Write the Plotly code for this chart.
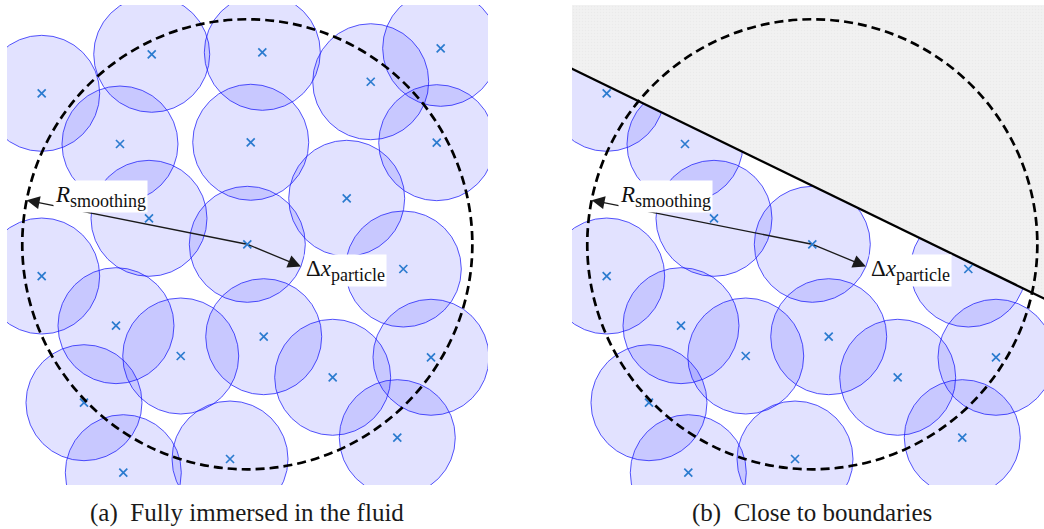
import plotly.graph_objects as go

# Particle centres in units of the particle spacing Δx (reference particle at the origin)
particle_x = [-1.648, 0.259, 2.128, 3.334, -3.545, -2.195, 0.059, 3.266, -1.695, 1.714, 0.0,
              2.690, -3.545, -2.264, -1.148, 0.283, 1.472, 3.167, -2.816, -2.138, -0.298, 2.586]
particle_y = [3.276, 3.310, 2.803, 3.379, 2.603, 1.729, 1.759, 1.752, 0.448, 0.793, 0.0,
              -0.426, -0.547, -1.403, -1.926, -1.593, -2.293, -1.948, -2.731, -3.938, -3.702, -3.334]
particle_radius = 1.0
smoothing_radius = 3.88

# Solid wall of panel (b): y = wall_offset + wall_slope * x, solid above the line
wall_offset = 1.01
wall_slope = -0.487

# Directions of the two radius arrows, in degrees
r_arrow_angle = 168.7
dx_arrow_angle = -22.4

captions = ["(a)\u00a0\u00a0Fully immersed in the fluid", "(b)\u00a0\u00a0Close to boundaries"]

import math

W, H = 1044, 529
SCALE = 58.0          # pixels per Δx
PANEL_TOP, PANEL_BOT = 5, 485
CENTRE_PX = [(247.3, 244.3), (812.3, 244.3)]
PANEL_X = [(7, 488), (572, 1044)]

CIRCLE_FILL = "rgba(0,0,255,0.115)"
CIRCLE_LINE = "rgba(30,30,250,0.75)"
CROSS = "#2b7bcf"
SERIF = "Liberation Serif"
SUB = "<sub><span style='font-family:Liberation Serif;font-size:18px'>{}</span></sub>"


def wall(x):
    return wall_offset + wall_slope * x


fig = go.Figure()
shapes = []
annotations = []

for k in range(2):
    xs = "x" if k == 0 else "x2"
    ys = "y" if k == 0 else "y2"
    ax_name = "xaxis" if k == 0 else "xaxis2"
    ay_name = "yaxis" if k == 0 else "yaxis2"
    cx, cy = CENTRE_PX[k]
    x0p, x1p = PANEL_X[k]
    xr = [(x0p - cx) / SCALE, (x1p - cx) / SCALE]
    yr = [(cy - PANEL_BOT) / SCALE, (cy - PANEL_TOP) / SCALE]
    axis_style = dict(showgrid=False, zeroline=False, showticklabels=False,
                      showline=False, ticks="", fixedrange=True)
    fig.update_layout({
        ax_name: dict(domain=[x0p / W, x1p / W], range=xr, anchor=ys, **axis_style),
        ay_name: dict(domain=[1 - PANEL_BOT / H, 1 - PANEL_TOP / H], range=yr,
                      anchor=xs, **axis_style),
    })

    # panel (b) keeps only the fluid particles below the wall
    if k == 0:
        px_, py_ = particle_x, particle_y
    else:
        pts = [(x, y) for x, y in zip(particle_x, particle_y) if y < wall(x)]
        px_ = [p[0] for p in pts]
        py_ = [p[1] for p in pts]

    for x, y in zip(px_, py_):
        shapes.append(dict(type="circle", xref=xs, yref=ys, layer="below",
                           x0=x - particle_radius, x1=x + particle_radius,
                           y0=y - particle_radius, y1=y + particle_radius,
                           fillcolor=CIRCLE_FILL, line=dict(color=CIRCLE_LINE, width=1)))

    if k == 1:
        wx = [-5.0, 5.0]
        fig.add_trace(go.Scatter(
            x=[wx[0], wx[1], wx[1], wx[0], wx[0]],
            y=[wall(wx[0]), wall(wx[1]), 6, 6, wall(wx[0])],
            xaxis=xs, yaxis=ys, mode="lines", fill="toself",
            fillcolor="#efefef", line=dict(width=0),
            fillpattern=dict(shape=".", bgcolor="#f1f1f1", fgcolor="#e4e4e4",
                             size=3, solidity=0.25),
            hoverinfo="skip", showlegend=False))
        fig.add_trace(go.Scatter(
            x=wx, y=[wall(v) for v in wx], xaxis=xs, yaxis=ys, mode="lines",
            line=dict(color="black", width=2.3), hoverinfo="skip", showlegend=False))

    fig.add_trace(go.Scatter(
        x=px_, y=py_, xaxis=xs, yaxis=ys, mode="markers",
        marker=dict(symbol="x-thin", size=8, line=dict(color=CROSS, width=1.7)),
        hoverinfo="skip", showlegend=False))

    # smoothing kernel support around the reference particle
    shapes.append(dict(type="circle", xref=xs, yref=ys, layer="above",
                       x0=-smoothing_radius, x1=smoothing_radius,
                       y0=-smoothing_radius, y1=smoothing_radius,
                       fillcolor="rgba(0,0,0,0)",
                       line=dict(color="black", width=2.7, dash="9px,5px")))

    for rad, ang in [(smoothing_radius, r_arrow_angle), (particle_radius, dx_arrow_angle)]:
        a = math.radians(ang)
        annotations.append(dict(
            x=rad * math.cos(a), y=rad * math.sin(a), xref=xs, yref=ys,
            ax=0, ay=0, axref=xs, ayref=ys, text="", showarrow=True,
            arrowhead=2, arrowsize=2.0, arrowwidth=1.3, arrowcolor="#1a1a1a",
            standoff=0, startstandoff=0))

    annotations.append(dict(
        x=-2.53, y=0.83, xref=xs, yref=ys, showarrow=False,
        text="<i>R</i>" + SUB.format("smoothing"),
        font=dict(family=SERIF, size=23, color="#111111"),
        bgcolor="white", borderpad=1))
    annotations.append(dict(
        x=1.70, y=-0.46, xref=xs, yref=ys, showarrow=False,
        text="Δ<i>x</i>" + SUB.format("particle"),
        font=dict(family=SERIF, size=23, color="#111111"),
        bgcolor="white", borderpad=1))

    annotations.append(dict(
        x=cx / W, y=1 - 513 / H, xref="paper", yref="paper", showarrow=False,
        text=captions[k], xanchor="center", yanchor="middle",
        font=dict(family=SERIF, size=25, color="#1a1a1a")))

fig.update_layout(
    width=W, height=H, margin=dict(l=0, r=0, t=0, b=0),
    paper_bgcolor="white", plot_bgcolor="white",
    shapes=shapes, annotations=annotations, showlegend=False,
)

fig.write_html("out.html", config={"displayModeBar": False})
